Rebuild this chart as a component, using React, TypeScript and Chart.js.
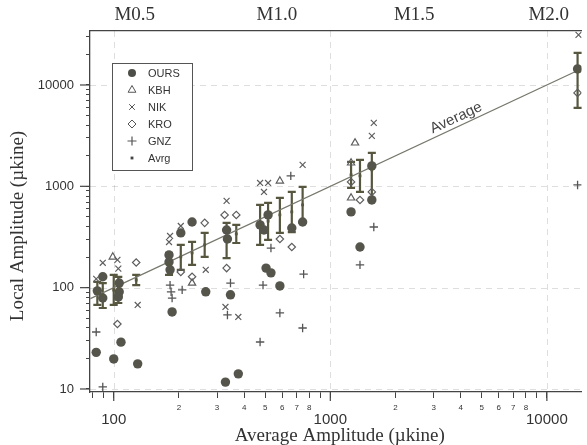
import React, { useEffect, useRef } from 'react';
import { Chart, registerables } from 'chart.js';
import { drawPoint } from 'chart.js/helpers';

Chart.register(...registerables);

// ---------- data ----------
const oursX = [84, 89, 89, 106, 106, 105, 108, 83, 100, 129, 204, 230, 180, 180, 182, 266, 186, 346, 328, 376, 332, 335, 505, 532, 664, 745, 585, 474, 494, 516, 1247, 1371, 1555, 1555, 13860];
const oursY = [93, 128, 79, 111, 91, 81, 29, 23, 19.8, 17.7, 347, 445, 210, 179, 150, 91, 57.6, 85, 11.7, 14.1, 371, 302, 156, 140, 388, 445, 104, 416, 371, 522, 559, 252, 734, 1590, 14420];

const kbhX = [99, 230, 585, 1301, 1247, 1247];
const kbhY = [201, 111, 1130, 2682, 1702, 769];

const nikX = [83, 89, 104, 105, 129, 182, 180, 204, 266, 332, 328, 376, 474, 516, 494, 745, 1588, 1555, 14000];
const nikY = [122, 176, 188, 154, 67.5, 324, 282, 406, 150, 718, 64.5, 51.4, 1080, 1080, 880, 1627, 4225, 3145, 31240];

const kroX = [127, 104, 263, 204, 230, 325, 368, 332, 585, 664, 1371, 1247, 1555, 13860];
const kroY = [177, 43.8, 436, 143, 128, 522, 522, 156, 302, 252, 734, 1105, 880, 8356];

const gnzX = [83, 89, 182, 184, 186, 207, 346, 335, 474, 489, 657, 532, 753, 585, 745, 1588, 1371, 13860];
const gnzY = [36.5, 10.5, 106, 91, 79, 95, 111, 53.8, 29.1, 106, 1267, 246, 136, 56.3, 40, 397, 168, 1032];

const avrgX = [84, 89, 100, 105, 127, 180, 204, 230, 263, 332, 368, 474, 516, 585, 664, 745, 1247, 1371, 1555, 13860];
const avrgY = [88.7, 84.7, 94.9, 99.3, 119, 171, 201, 220, 264, 296, 339, 416, 455, 522, 559, 655, 1295, 1267, 1451, 13470];
const avrgLo = [67.5, 63, 67.5, 70.6, 106, 133.5, 149.5, 167.5, 201, 196, 276, 264, 296, 347, 354, 435, 964, 880, 734, 5943];
const avrgHi = [114, 111, 133.5, 127.5, 133.5, 220, 264, 283, 347, 435, 416, 655, 686, 769, 880, 986, 1741, 1822, 2136, 20750];

const averageLineX = [78, 14450];

const magValues = [125, 567, 2440, 10200];
const magLabels = ['M0.5', 'M1.0', 'M1.5', 'M2.0'];

const xMajorTicks = [100, 1000, 10000];
const yMajorTicks = [10, 100, 1000, 10000];
const minorLabelDigits = [2, 3, 4, 5, 6, 7, 8];

const X_MIN = 77.7;
const X_MAX = 14450;
const Y_MIN = 9.34;
const Y_MAX = 34100;

const SANS = '"Liberation Sans", Arial, Helvetica, sans-serif';
const SERIF = '"Liberation Serif", "Times New Roman", serif';
const INK = '#444';
const BAR = '#57573f';

const zip = (xs: number[], ys: number[]) => xs.map((x, i) => ({ x, y: ys[i] }));

function decadeTicks(min: number, max: number) {
  const t: { value: number }[] = [];
  for (let e = 0; e <= 5; e++) {
    const d = Math.pow(10, e);
    for (let m = 1; m <= 9; m++) {
      const v = m * d;
      if (v >= min && v <= max) t.push({ value: v });
    }
  }
  return t;
}

const legendItems = [
  { label: 'OURS', style: 'circle', r: 4, fill: '#4e4e48', stroke: '#4e4e48', bw: 0 },
  { label: 'KBH', style: 'triangle', r: 4.5, fill: 'rgba(0,0,0,0)', stroke: '#555', bw: 1 },
  { label: 'NIK', style: 'crossRot', r: 4, fill: 'rgba(0,0,0,0)', stroke: '#555', bw: 1 },
  { label: 'KRO', style: 'rectRot', r: 4, fill: 'rgba(0,0,0,0)', stroke: '#555', bw: 1 },
  { label: 'GNZ', style: 'cross', r: 4.5, fill: 'rgba(0,0,0,0)', stroke: '#555', bw: 1.2 },
  { label: 'Avrg', style: 'rect', r: 2, fill: '#444', stroke: '#444', bw: 0 },
];

const decorPlugin = {
  id: 'decor',
  beforeDatasetsDraw(chart: any) {
    const { ctx, chartArea: ca, scales } = chart;
    const xs = scales.x;
    const ys = scales.y;
    ctx.save();
    // faint dashed grid at decades
    ctx.strokeStyle = 'rgba(0,0,0,0.13)';
    ctx.lineWidth = 1;
    ctx.setLineDash([6, 5]);
    xMajorTicks.forEach((v) => {
      const px = Math.round(xs.getPixelForValue(v)) + 0.5;
      ctx.beginPath();
      ctx.moveTo(px, ca.top);
      ctx.lineTo(px, ca.bottom);
      ctx.stroke();
    });
    yMajorTicks.forEach((v) => {
      const py = Math.round(ys.getPixelForValue(v)) + 0.5;
      ctx.beginPath();
      ctx.moveTo(ca.left, py);
      ctx.lineTo(ca.right, py);
      ctx.stroke();
    });
    ctx.setLineDash([]);
    // longer major tick marks
    ctx.strokeStyle = INK;
    ctx.lineWidth = 1.2;
    xMajorTicks.forEach((v) => {
      const px = xs.getPixelForValue(v);
      ctx.beginPath();
      ctx.moveTo(px, ca.bottom);
      ctx.lineTo(px, ca.bottom + 9);
      ctx.stroke();
    });
    yMajorTicks.forEach((v) => {
      const py = ys.getPixelForValue(v);
      ctx.beginPath();
      ctx.moveTo(ca.left - 10, py);
      ctx.lineTo(ca.left, py);
      ctx.stroke();
    });
    // error bars for Avrg
    ctx.strokeStyle = BAR;
    ctx.lineWidth = 2.2;
    avrgX.forEach((xv, i) => {
      const px = xs.getPixelForValue(xv);
      const pLo = ys.getPixelForValue(avrgLo[i]);
      const pHi = ys.getPixelForValue(avrgHi[i]);
      ctx.beginPath();
      ctx.moveTo(px, pLo);
      ctx.lineTo(px, pHi);
      ctx.moveTo(px - 4, pLo);
      ctx.lineTo(px + 4, pLo);
      ctx.moveTo(px - 4, pHi);
      ctx.lineTo(px + 4, pHi);
      ctx.stroke();
    });
    ctx.restore();
  },
  afterDraw(chart: any) {
    const { ctx, chartArea: ca, scales } = chart;
    const xs = scales.x;
    const ys = scales.y;
    ctx.save();
    // "Average" label along the 1:1 line
    const ax1 = xs.getPixelForValue(1000), ay1 = ys.getPixelForValue(1000);
    const ax2 = xs.getPixelForValue(10000), ay2 = ys.getPixelForValue(10000);
    const ang = Math.atan2(ay2 - ay1, ax2 - ax1);
    const lx = xs.getPixelForValue(3960), ly = ys.getPixelForValue(3960);
    ctx.translate(lx, ly);
    ctx.rotate(ang);
    ctx.fillStyle = '#444';
    ctx.font = `15px ${SANS}`;
    ctx.textAlign = 'center';
    ctx.textBaseline = 'bottom';
    ctx.fillText('Average', 0, -1);
    ctx.restore();

    // legend box
    ctx.save();
    const bx = ca.left + 22, by = ca.top + 32, bw = 80, bh = 107;
    ctx.fillStyle = '#fff';
    ctx.fillRect(bx, by, bw, bh);
    ctx.strokeStyle = '#555';
    ctx.lineWidth = 1;
    ctx.strokeRect(bx + 0.5, by + 0.5, bw, bh);
    ctx.font = `11px ${SANS}`;
    ctx.textBaseline = 'middle';
    ctx.textAlign = 'left';
    legendItems.forEach((it, i) => {
      const cy = by + 10 + i * 17;
      ctx.fillStyle = it.fill;
      ctx.strokeStyle = it.stroke;
      ctx.lineWidth = it.bw;
      drawPoint(ctx, { pointStyle: it.style, radius: it.r, borderWidth: it.bw, rotation: 0 } as any, bx + 20, cy);
      ctx.fillStyle = '#333';
      ctx.fillText(it.label, bx + 36, cy + 0.5);
    });
    ctx.restore();

    // axis titles
    ctx.save();
    ctx.fillStyle = '#333';
    ctx.font = `19px ${SERIF}`;
    ctx.textAlign = 'center';
    ctx.textBaseline = 'middle';
    ctx.fillText('Average Amplitude (\u00b5kine)', (ca.left + ca.right) / 2 + 4, 436);
    ctx.translate(18, 226);
    ctx.rotate(-Math.PI / 2);
    ctx.fillText('Local Amplitude (\u00b5kine)', 0, 0);
    ctx.restore();
  },
};

export default function App() {
  const ref = useRef<HTMLCanvasElement>(null);

  useEffect(() => {
    if (!ref.current) return;
    const isXMajor = (v: number) => xMajorTicks.includes(v);
    const chart = new Chart(ref.current, {
      type: 'scatter',
      data: {
        datasets: [
          {
            label: 'Average', data: zip(averageLineX, averageLineX), showLine: true,
            borderColor: '#77776c', borderWidth: 1.2, pointRadius: 0, order: 10,
          },
          {
            label: 'OURS', data: zip(oursX, oursY), pointStyle: 'circle', pointRadius: 4.7,
            backgroundColor: '#55554c', borderColor: '#55554c', borderWidth: 0, order: 5,
          },
          {
            label: 'KBH', data: zip(kbhX, kbhY), pointStyle: 'triangle', pointRadius: 4.2,
            backgroundColor: 'rgba(0,0,0,0)', borderColor: '#5e5e5e', borderWidth: 1.2, order: 4,
          },
          {
            label: 'NIK', data: zip(nikX, nikY), pointStyle: 'crossRot', pointRadius: 4.2,
            backgroundColor: 'rgba(0,0,0,0)', borderColor: '#5e5e5e', borderWidth: 1.2, order: 4,
          },
          {
            label: 'KRO', data: zip(kroX, kroY), pointStyle: 'rectRot', pointRadius: 3.7,
            backgroundColor: 'rgba(0,0,0,0)', borderColor: '#5e5e5e', borderWidth: 1.2, order: 4,
          },
          {
            label: 'GNZ', data: zip(gnzX, gnzY), pointStyle: 'cross', pointRadius: 4.2,
            backgroundColor: 'rgba(0,0,0,0)', borderColor: '#555', borderWidth: 1.3, order: 4,
          },
          {
            label: 'Avrg', data: zip(avrgX, avrgY), pointStyle: 'rect', pointRadius: 2,
            backgroundColor: BAR, borderColor: BAR, borderWidth: 0, order: 1,
          },
        ],
      },
      options: {
        responsive: false,
        devicePixelRatio: 1,
        animation: false,
        events: [],
        layout: { padding: 0 },
        plugins: { legend: { display: false }, tooltip: { enabled: false }, title: { display: false } },
        scales: {
          x: {
            type: 'logarithmic', position: 'bottom', min: X_MIN, max: X_MAX,
            afterFit: (s: any) => { s.height = 53; },
            afterBuildTicks: (s: any) => { s.ticks = decadeTicks(X_MIN, X_MAX); },
            grid: { display: true, drawOnChartArea: false, drawTicks: true, tickLength: 6, tickColor: INK, tickWidth: 1 },
            border: { display: true, color: INK, width: 1.3 },
            ticks: {
              autoSkip: false, maxRotation: 0, minRotation: 0, padding: 5, color: '#333',
              font: (c: any) => {
                const v = c.tick ? c.tick.value : 0;
                return isXMajor(v)
                  ? { family: SANS, size: 15, lineHeight: 34 / 15 }
                  : { family: SANS, size: 8, lineHeight: 1.2 };
              },
              callback: (value: any) => {
                const v = Number(value);
                if (isXMajor(v)) return String(v);
                if (v < 100) return '';
                const d = Math.pow(10, Math.floor(Math.log10(v) + 1e-9));
                const m = Math.round(v / d);
                return minorLabelDigits.includes(m) ? String(m) : '';
              },
            },
          },
          x2: {
            type: 'logarithmic', position: 'top', min: X_MIN, max: X_MAX,
            afterFit: (s: any) => { s.height = 31; },
            afterBuildTicks: (s: any) => { s.ticks = magValues.map((v) => ({ value: v })); },
            grid: { display: false, drawTicks: false },
            border: { display: true, color: INK, width: 1.3 },
            ticks: {
              autoSkip: false, maxRotation: 0, minRotation: 0, padding: 5, color: '#333',
              font: { family: SERIF, size: 19 },
              callback: (_v: any, i: number) => magLabels[i],
            },
          },
          y: {
            type: 'logarithmic', position: 'left', min: Y_MIN, max: Y_MAX,
            afterFit: (s: any) => { s.width = 90; },
            afterBuildTicks: (s: any) => { s.ticks = decadeTicks(Y_MIN, Y_MAX); },
            grid: { display: true, drawOnChartArea: false, drawTicks: true, tickLength: 4, tickColor: INK, tickWidth: 1 },
            border: { display: true, color: INK, width: 1.3 },
            ticks: {
              autoSkip: false, padding: 12, color: '#333',
              font: { family: SANS, size: 13 },
              callback: (value: any) => (yMajorTicks.includes(Number(value)) ? String(Number(value)) : ''),
            },
          },
        },
      },
      plugins: [decorPlugin],
    } as any);
    return () => chart.destroy();
  }, []);

  return (
    <div style={{ position: 'absolute', left: 0, top: 0, width: 587, height: 445, background: '#fff' }}>
      <canvas ref={ref} width={587} height={445} style={{ display: 'block', width: 587, height: 445 }} />
    </div>
  );
}
